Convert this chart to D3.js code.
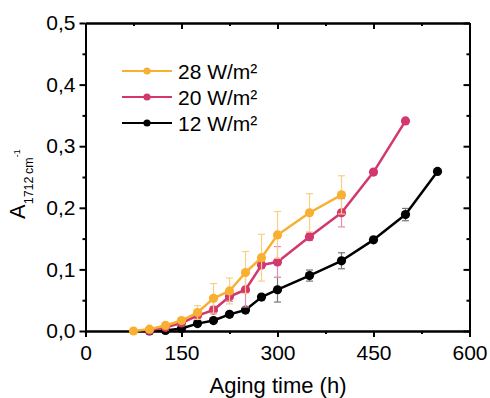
<!DOCTYPE html>
<html>
<head>
<meta charset="utf-8">
<script src="https://cdn.jsdelivr.net/npm/d3@7"></script>
<style>
  html, body { margin: 0; padding: 0; background: #fff; }
  svg { display: block; font-family: "Liberation Sans", Arial, sans-serif; }
</style>
</head>
<body>
<svg id="chart" width="490" height="398"></svg>
<script>
// Absorbance at 1712 cm-1 versus aging time for three irradiance levels
const hours28 = [75, 100, 125, 150, 175, 200, 225, 250, 275, 300, 350, 400];
const abs28   = [0.000, 0.003, 0.009, 0.017, 0.030, 0.053, 0.065, 0.095, 0.119, 0.156, 0.192, 0.221];
const err28   = [0, 0.001, 0.003, 0.004, 0.011, 0.024, 0.021, 0.034, 0.038, 0.038, 0.031, 0.031];

const hours20 = [100, 125, 150, 175, 200, 225, 250, 275, 300, 350, 400, 450, 500];
const abs20   = [0.001, 0.006, 0.013, 0.025, 0.034, 0.056, 0.067, 0.107, 0.112, 0.153, 0.192, 0.258, 0.341];
const err20   = [0, 0.002, 0.003, 0.006, 0.006, 0.008, 0.028, 0.005, 0.025, 0.006, 0.023, 0, 0];

const hours12 = [100, 125, 150, 175, 200, 225, 250, 275, 300, 350, 400, 450, 500, 550];
const abs12   = [0.000, 0.001, 0.004, 0.012, 0.017, 0.027, 0.034, 0.055, 0.067, 0.090, 0.114, 0.148, 0.189, 0.259];
const err12   = [0, 0, 0.002, 0.003, 0.003, 0.004, 0.004, 0.004, 0.020, 0.009, 0.013, 0, 0.010, 0];

const seriesNames = ["28 W/m²", "20 W/m²", "12 W/m²"];
const xMajorTicks = [0, 150, 300, 450, 600];
const xMinorTicks = [75, 225, 375, 525];
const yMajorTicks = [0, 0.1, 0.2, 0.3, 0.4, 0.5];
const yMinorTicks = [0.05, 0.15, 0.25, 0.35, 0.45];

const colors = ["#F8B033", "#D2386F", "#000000"];
const errColors = ["#F9CF83", "#E38FAE", "#777777"];

const series = [
  { name: seriesNames[0], x: hours28, y: abs28, e: err28 },
  { name: seriesNames[1], x: hours20, y: abs20, e: err20 },
  { name: seriesNames[2], x: hours12, y: abs12, e: err12 }
];

const svg = d3.select("#chart");
const plotLeft = 85.5, plotRight = 469.5, plotTop = 23, plotBottom = 331;

const x = d3.scaleLinear().domain([0, 600]).range([plotLeft, plotRight]);
const y = d3.scaleLinear().domain([0, 0.5]).range([plotBottom, plotTop]);
const commaFmt = v => d3.format(".1f")(v).replace(".", ",");

function styleAxis(g) {
  g.select(".domain").attr("stroke", "#000").attr("stroke-width", 2);
  g.selectAll(".tick line").attr("stroke", "#000").attr("stroke-width", 2);
  g.selectAll(".tick text").attr("fill", "#000").style("font-size", "21px")
    .style("font-family", "'Liberation Sans', Arial, sans-serif");
}

// bottom axis: outward ticks with labels
svg.append("g").attr("transform", `translate(0,${plotBottom})`)
  .call(d3.axisBottom(x).tickValues(xMajorTicks).tickSize(6).tickPadding(8).tickSizeOuter(0).tickFormat(d3.format("d")))
  .call(styleAxis);
svg.append("g").attr("transform", `translate(0,${plotBottom})`)
  .call(d3.axisBottom(x).tickValues(xMinorTicks).tickSize(3).tickSizeOuter(0).tickFormat(""))
  .call(styleAxis);

// top axis: inward ticks
svg.append("g").attr("transform", `translate(0,${plotTop})`)
  .call(d3.axisBottom(x).tickValues(xMajorTicks).tickSize(6).tickSizeOuter(0).tickFormat(""))
  .call(styleAxis);
svg.append("g").attr("transform", `translate(0,${plotTop})`)
  .call(d3.axisBottom(x).tickValues(xMinorTicks).tickSize(3).tickSizeOuter(0).tickFormat(""))
  .call(styleAxis);

// left axis: outward ticks with labels
svg.append("g").attr("transform", `translate(${plotLeft},0)`)
  .call(d3.axisLeft(y).tickValues(yMajorTicks).tickSize(6).tickPadding(4).tickSizeOuter(0).tickFormat(commaFmt))
  .call(styleAxis);
svg.append("g").attr("transform", `translate(${plotLeft},0)`)
  .call(d3.axisLeft(y).tickValues(yMinorTicks).tickSize(3).tickSizeOuter(0).tickFormat(""))
  .call(styleAxis);

// right axis: inward ticks
svg.append("g").attr("transform", `translate(${plotRight},0)`)
  .call(d3.axisLeft(y).tickValues(yMajorTicks).tickSize(6).tickSizeOuter(0).tickFormat(""))
  .call(styleAxis);
svg.append("g").attr("transform", `translate(${plotRight},0)`)
  .call(d3.axisLeft(y).tickValues(yMinorTicks).tickSize(3).tickSizeOuter(0).tickFormat(""))
  .call(styleAxis);

// series: drawn 12 -> 20 -> 28 so the highest irradiance sits on top
const line = d3.line().x(d => x(d.x)).y(d => y(d.y));
[2, 1, 0].forEach(i => {
  const s = series[i];
  const pts = s.x.map((h, k) => ({ x: h, y: s.y[k], e: s.e[k] }));
  const g = svg.append("g");

  const eb = g.append("g").attr("stroke", errColors[i]).attr("stroke-width", 1.2).attr("fill", "none");
  pts.filter(d => d.e > 0).forEach(d => {
    const cx = x(d.x), y1 = y(d.y + d.e), y0 = y(d.y - d.e);
    eb.append("line").attr("x1", cx).attr("x2", cx).attr("y1", y1).attr("y2", y0);
    eb.append("line").attr("x1", cx - 3.5).attr("x2", cx + 3.5).attr("y1", y1).attr("y2", y1);
    eb.append("line").attr("x1", cx - 3.5).attr("x2", cx + 3.5).attr("y1", y0).attr("y2", y0);
  });

  g.append("path").datum(pts).attr("d", line)
    .attr("fill", "none").attr("stroke", colors[i]).attr("stroke-width", 2.5).attr("stroke-linejoin", "round");

  g.selectAll("circle").data(pts).join("circle")
    .attr("cx", d => x(d.x)).attr("cy", d => y(d.y)).attr("r", 4.6)
    .attr("fill", colors[i]);
});

// legend
const legend = svg.append("g");
series.forEach((s, i) => {
  const ly = 71 + i * 26;
  legend.append("line").attr("x1", 122).attr("x2", 172).attr("y1", ly).attr("y2", ly)
    .attr("stroke", colors[i]).attr("stroke-width", 2);
  legend.append("circle").attr("cx", 147).attr("cy", ly).attr("r", 3.6).attr("fill", colors[i]);
  legend.append("text").attr("x", 178).attr("y", ly).attr("dy", "0.36em")
    .style("font-size", "21px").attr("fill", "#000").text(s.name);
});

// axis titles
svg.append("text").attr("x", (plotLeft + plotRight) / 2 + 0.5).attr("y", 393)
  .attr("text-anchor", "middle").style("font-size", "22px").attr("fill", "#000")
  .text("Aging time (h)");

const yTitle = svg.append("text").attr("transform", "translate(25,219) rotate(-90)")
  .attr("text-anchor", "start").attr("fill", "#000").style("font-size", "22px");
yTitle.append("tspan").text("A");
yTitle.append("tspan").attr("dy", 8).style("font-size", "12.5px").text("1712\u2009cm");
yTitle.append("tspan").attr("dy", -13).style("font-size", "9px").text("-1");
</script>
</body>
</html>
